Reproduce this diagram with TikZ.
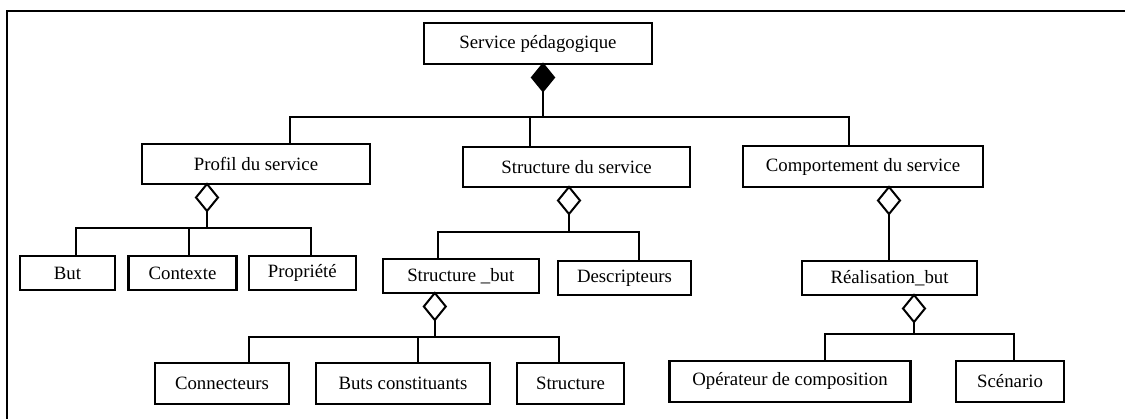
\documentclass[tikz,border=0pt]{standalone}
\usepackage{fontspec}
\setmainfont{Liberation Serif}
\usetikzlibrary{shapes.geometric}
\begin{document}
\begin{tikzpicture}[x=1pt,y=-1pt,
  box/.style={draw, rectangle, line width=2.2pt, inner sep=0pt, outer sep=0pt,
    font=\fontsize{18.8}{22}\selectfont},
  agg/.style={draw, diamond, line width=2pt, inner sep=0pt, outer sep=0pt,
    minimum width=22pt, minimum height=27pt, anchor=north, fill=white},
  comp/.style={agg, fill=black},
  conn/.style={line width=2pt}]
\useasboundingbox (0,0) rectangle (1125,419);
% frame
\draw[line width=2pt] (7,425) -- (7,10.7) -- (1130,10.7);
% level 0
\node[box, minimum width=228pt, minimum height=41pt] (sp) at (538,43.5) {Service pédagogique};
% level 1
\node[box, minimum width=228pt, minimum height=40pt] (ps) at (256,164) {Profil du service};
\node[box, minimum width=227pt, minimum height=40pt] (ss) at (576.5,167) {Structure du service};
\node[box, minimum width=240pt, minimum height=41pt] (cs) at (863,166.5) {Comportement du service};
% level 2
\node[box, minimum width=95pt, minimum height=34pt] (but) at (67.5,273) {But};
\node[box, minimum width=108pt, minimum height=34pt] (ctx) at (182.5,273) {Contexte};
\node[box, minimum width=107.4pt, minimum height=34pt] (prop) at (302.3,273) {Propriété};
\node[box, minimum width=155.6pt, minimum height=34pt] (sb) at (460.8,276) {Structure \_but};
\node[box, minimum width=133pt, minimum height=34pt] (desc) at (624.5,278) {Descripteurs};
\node[box, minimum width=175pt, minimum height=34pt] (rb) at (889.5,278) {Réalisation\_but};
% level 3
\node[box, minimum width=134.4pt, minimum height=41pt] (cn) at (222,383.5) {Connecteurs};
\node[box, minimum width=174pt, minimum height=41pt] (bc) at (403,383.5) {Buts constituants};
\node[box, minimum width=107pt, minimum height=41pt] (st) at (570.5,383.5) {Structure};
\node[box, minimum width=241pt, minimum height=40.7pt] (op) at (790,381.4) {Opérateur de composition};
\node[box, minimum width=107.6pt, minimum height=40.7pt] (sc) at (1010,381.4) {Scénario};
% diamonds
\node[comp] (d0) at ([xshift=5]sp.south) {};
\node[agg] (d1) at ([xshift=-49]ps.south) {};
\node[agg] (d2) at ([xshift=-7.5]ss.south) {};
\node[agg] (d3) at ([xshift=26]cs.south) {};
\node[agg] (d4) at ([xshift=-26]sb.south) {};
\node[agg] (d5) at ([xshift=24.5]rb.south) {};
% connectors
\draw[conn] (d0.south) -- ++(0,26) coordinate (j0);
\draw[conn] ([xshift=34]ps.north) |- (j0) -| ([xshift=-14.4]cs.north);
\draw[conn] ([xshift=-46.5]ss.north) -- ([xshift=-46.5]ss.north |- j0);

\draw[conn] (d1.south) -- ++(0,17) coordinate (j1);
\draw[conn] ([xshift=8.5]but.north) |- (j1) -| ([xshift=9]prop.north);
\draw[conn] ([xshift=6.5]ctx.north) -- ([xshift=6.5]ctx.north |- j1);

\draw[conn] (d2.south) -- ++(0,17.7) coordinate (j2);
\draw[conn] ([xshift=-23]sb.north) |- (j2) -| ([xshift=14]desc.north);

\draw[conn] (d3.south) -- (d3.south |- rb.north);

\draw[conn] (d4.south) -- ++(0,17) coordinate (j4);
\draw[conn] ([xshift=27]cn.north) |- (j4) -| ([xshift=-12]st.north);
\draw[conn] ([xshift=15]bc.north) -- ([xshift=15]bc.north |- j4);

\draw[conn] (d5.south) -- ++(0,12) coordinate (j5);
\draw[conn] ([xshift=35]op.north) |- (j5) -| ([xshift=3.6]sc.north);
\end{tikzpicture}
\end{document}
